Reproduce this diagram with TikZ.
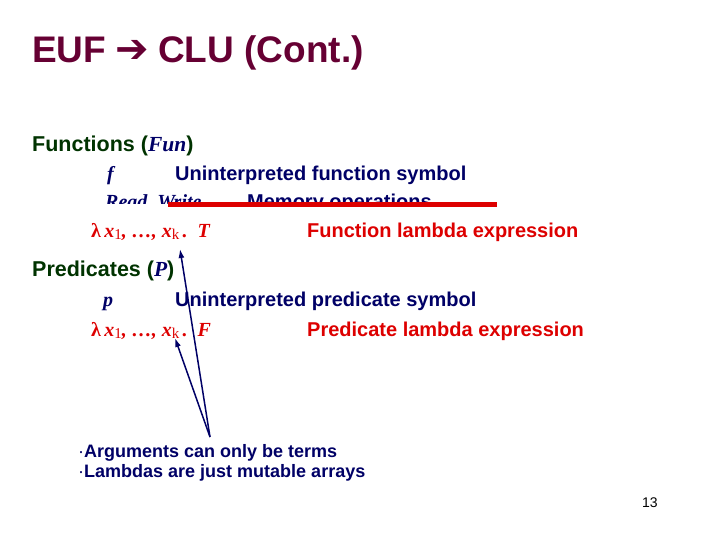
\documentclass[tikz,border=0pt]{standalone}
\usepackage{fontspec}
\usetikzlibrary{arrows.meta}
\setmainfont{Liberation Sans}
\newfontfamily\serifit{Liberation Serif}
\newfontfamily\dejavu{DejaVu Sans}
\newcommand{\sbx}[1]{\raisebox{-0.3ex}{\fontsize{15}{16}\selectfont\upshape\mdseries #1}}
\begin{document}
\begin{tikzpicture}[x=1pt,y=-1pt,
  t/.style={anchor=base west,inner sep=0pt,font=\bfseries\fontsize{20}{23}\selectfont},
  m/.style={anchor=base west,inner sep=0pt,font=\serifit\bfseries\itshape\fontsize{20}{23}\selectfont},
  arr/.style={draw=navy,line width=1.5pt,-{Latex[length=9pt,width=6pt]}}]
\definecolor{maroon}{RGB}{102,0,51}
\definecolor{dgreen}{RGB}{0,51,0}
\definecolor{navy}{RGB}{0,0,102}
\definecolor{rred}{RGB}{221,0,0}
\useasboundingbox (0,0) rectangle (719,539);
\node[t,text=maroon,font=\bfseries\fontsize{37}{40}\selectfont] (title) at (32,62) {EUF\hspace{0.25em}{\dejavu\fontsize{40}{40}\selectfont➔}\hspace{0.25em}CLU (Cont.)};
\node[t,text=dgreen,font=\bfseries\fontsize{21.5}{24}\selectfont] (fun) at (32,151) {Functions (\textcolor{navy}{\serifit\itshape Fun})};
\node[m,text=navy] (f) at (107,180) {f};
\node[t,text=navy] (uf) at (175,180) {Uninterpreted function symbol};
\begin{scope}
\clip (0,150) rectangle (719,203);
\node[m,text=navy] (rw) at (105,208) {Read, Write};
\node[t,text=navy] (mo) at (247,208) {Memory operations};
\end{scope}
\draw[rred,line width=5pt] (168,204) -- (497,204);
\node[m,text=rred] (l1) at (91,237) {{\upshape λ}\,x\sbx{1}, …, x\sbx{k}\,. \,T};
\node[t,text=rred] (fl) at (307,237) {Function lambda expression};
\node[t,text=dgreen,font=\bfseries\fontsize{21.5}{24}\selectfont] (pred) at (32,276) {Predicates (\textcolor{navy}{\serifit\itshape P})};
\node[m,text=navy] (p) at (103,306) {p};
\node[t,text=navy] (up) at (175,306) {Uninterpreted predicate symbol};
\node[m,text=rred] (l2) at (91,336) {{\upshape λ}\,x\sbx{1}, …, x\sbx{k}\,. \,F};
\node[t,text=rred] (pl) at (307,336) {Predicate lambda expression};
\coordinate (src) at (210,437);
\coordinate (tip1) at (180,249);
\coordinate (tip2) at (175,338);
\draw[arr] (src) -- (tip1);
\draw[arr] (src) -- (tip2);
\node[t,text=navy,font=\bfseries\fontsize{18}{20}\selectfont] (b1) at (78,457) {{\mdseries\textperiodcentered}Arguments can only be terms};
\node[t,text=navy,font=\bfseries\fontsize{18}{20}\selectfont] (b2) at (78,477) {{\mdseries\textperiodcentered}Lambdas are just mutable arrays};
\node[t,font=\fontsize{14}{16}\selectfont] (n) at (642,507) {13};
\end{tikzpicture}
\end{document}
